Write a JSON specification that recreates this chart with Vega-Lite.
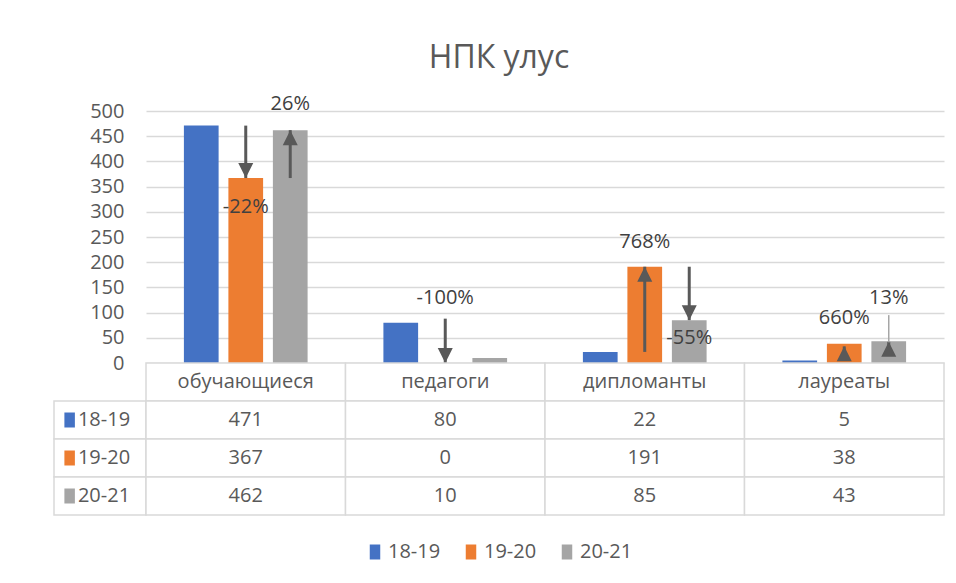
{
  "$schema": "https://vega.github.io/schema/vega-lite/v6.json",
  "padding": {"left": 53, "top": 42, "right": 13, "bottom": 20},
  "title": {"text": "НПК улус", "fontSize": 32, "fontWeight": "normal", "color": "#595959", "anchor": "middle", "offset": 19},
  "datasets": {
    "bars": [
      {"cat": "обучающиеся", "series": "18-19", "value": 471},
      {"cat": "обучающиеся", "series": "19-20", "value": 367},
      {"cat": "обучающиеся", "series": "20-21", "value": 462},
      {"cat": "педагоги", "series": "18-19", "value": 80},
      {"cat": "педагоги", "series": "19-20", "value": 0},
      {"cat": "педагоги", "series": "20-21", "value": 10},
      {"cat": "дипломанты", "series": "18-19", "value": 22},
      {"cat": "дипломанты", "series": "19-20", "value": 191},
      {"cat": "дипломанты", "series": "20-21", "value": 85},
      {"cat": "лауреаты", "series": "18-19", "value": 5},
      {"cat": "лауреаты", "series": "19-20", "value": 38},
      {"cat": "лауреаты", "series": "20-21", "value": 43}
    ],
    "arrows": [
      {"cat": "обучающиеся", "series": "19-20", "from": 471, "to": 367, "dir": "down", "label": "-22%", "label_at": 309},
      {"cat": "обучающиеся", "series": "20-21", "from": 367, "to": 462, "dir": "up", "label": "26%", "label_at": 513},
      {"cat": "педагоги", "series": "19-20", "from": 88, "to": 0, "dir": "down", "label": "-100%", "label_at": 128},
      {"cat": "дипломанты", "series": "19-20", "from": 22, "to": 191, "dir": "up", "label": "768%", "label_at": 241},
      {"cat": "дипломанты", "series": "20-21", "from": 191, "to": 85, "dir": "down", "label": "-55%", "label_at": 49},
      {"cat": "лауреаты", "series": "19-20", "from": 5, "to": 33, "dir": "up", "label": "660%", "label_at": 89},
      {"cat": "лауреаты", "series": "20-21", "from": 20, "to": 42, "dir": "up", "label": "13%", "label_at": 128}
    ],
    "leaders": [
      {"cat": "лауреаты", "series": "20-21", "from": 95, "to": 40}
    ],
    "rows": [
      {"series": "18-19"},
      {"series": "19-20"},
      {"series": "20-21"}
    ],
    "table": [
      {"cat": "обучающиеся", "row": "header", "text": "обучающиеся"},
      {"cat": "педагоги", "row": "header", "text": "педагоги"},
      {"cat": "дипломанты", "row": "header", "text": "дипломанты"},
      {"cat": "лауреаты", "row": "header", "text": "лауреаты"},
      {"cat": "обучающиеся", "row": "18-19", "text": "471"},
      {"cat": "педагоги", "row": "18-19", "text": "80"},
      {"cat": "дипломанты", "row": "18-19", "text": "22"},
      {"cat": "лауреаты", "row": "18-19", "text": "5"},
      {"cat": "обучающиеся", "row": "19-20", "text": "367"},
      {"cat": "педагоги", "row": "19-20", "text": "0"},
      {"cat": "дипломанты", "row": "19-20", "text": "191"},
      {"cat": "лауреаты", "row": "19-20", "text": "38"},
      {"cat": "обучающиеся", "row": "20-21", "text": "462"},
      {"cat": "педагоги", "row": "20-21", "text": "10"},
      {"cat": "дипломанты", "row": "20-21", "text": "85"},
      {"cat": "лауреаты", "row": "20-21", "text": "43"}
    ]
  },
  "columns": 2,
  "spacing": 0,
  "bounds": "flush",
  "concat": [
    {
      "width": 92, "height": 252,
      "data": {"values": [{"a": 1}]},
      "mark": {"type": "text", "text": ""},
      "encoding": {}
    },
    {
      "width": 798, "height": 252,
      "layer": [
        {
          "data": {"name": "bars"},
          "mark": {"type": "bar"},
          "encoding": {
            "x": {"field": "cat", "type": "nominal", "sort": ["обучающиеся", "педагоги", "дипломанты", "лауреаты"], "scale": {"domain": ["обучающиеся", "педагоги", "дипломанты", "лауреаты"], "paddingInner": 0.38, "paddingOuter": 0.19}, "axis": null},
            "xOffset": {"field": "series", "type": "nominal", "scale": {"domain": ["18-19", "19-20", "20-21"], "paddingInner": 0.22, "paddingOuter": 0}},
            "y": {"field": "value", "type": "quantitative", "title": null, "scale": {"domain": [0, 500], "nice": false},
              "axis": {"values": [0, 50, 100, 150, 200, 250, 300, 350, 400, 450, 500], "labelOverlap": false, "grid": true, "gridColor": "#D9D9D9", "gridWidth": 1.5, "domain": false, "ticks": false, "tickSize": 0, "labelPadding": 22, "labelFontSize": 20, "labelColor": "#595959", "title": null}},
            "color": {"field": "series", "type": "nominal", "scale": {"domain": ["18-19", "19-20", "20-21"], "range": ["#4472C4", "#ED7D31", "#A5A5A5"]},
              "legend": {"orient": "bottom", "direction": "horizontal", "title": null, "symbolType": "M-0.7,-1H0.7V1H-0.7Z", "symbolSize": 225, "labelFontSize": 20, "labelColor": "#595959", "columnPadding": 20, "labelOffset": 3, "offset": 26, "symbolStrokeWidth": 0}}
          }
        },
        {
          "data": {"name": "arrows"},
          "mark": {"type": "rule", "color": "#595959", "strokeWidth": 3},
          "encoding": {
            "x": {"field": "cat", "type": "nominal"},
            "xOffset": {"field": "series", "type": "nominal"},
            "y": {"field": "from", "type": "quantitative", "title": null,
              "axis": {"values": [0, 50, 100, 150, 200, 250, 300, 350, 400, 450, 500], "labelOverlap": false, "grid": true, "gridColor": "#D9D9D9", "gridWidth": 1.5, "domain": false, "ticks": false, "tickSize": 0, "labelPadding": 22, "labelFontSize": 20, "labelColor": "#595959", "title": null}},
            "y2": {"field": "to"}
          }
        },
        {
          "data": {"name": "leaders"},
          "mark": {"type": "rule", "color": "#A6A6A6", "strokeWidth": 1.5},
          "encoding": {
            "x": {"field": "cat", "type": "nominal"},
            "xOffset": {"field": "series", "type": "nominal"},
            "y": {"field": "from", "type": "quantitative", "title": null,
              "axis": {"values": [0, 50, 100, 150, 200, 250, 300, 350, 400, 450, 500], "labelOverlap": false, "grid": true, "gridColor": "#D9D9D9", "gridWidth": 1.5, "domain": false, "ticks": false, "tickSize": 0, "labelPadding": 22, "labelFontSize": 20, "labelColor": "#595959", "title": null}},
            "y2": {"field": "to"}
          }
        },
        {
          "data": {"name": "arrows"},
          "mark": {"type": "point", "filled": true, "color": "#595959", "size": 225, "opacity": 1},
          "encoding": {
            "x": {"field": "cat", "type": "nominal"},
            "xOffset": {"field": "series", "type": "nominal"},
            "y": {"field": "to", "type": "quantitative", "title": null,
              "axis": {"values": [0, 50, 100, 150, 200, 250, 300, 350, 400, 450, 500], "labelOverlap": false, "grid": true, "gridColor": "#D9D9D9", "gridWidth": 1.5, "domain": false, "ticks": false, "tickSize": 0, "labelPadding": 22, "labelFontSize": 20, "labelColor": "#595959", "title": null}},
            "shape": {"field": "dir", "type": "nominal", "scale": {"domain": ["up", "down"], "range": ["M0,0L-1,2L1,2Z", "M0,0L-1,-2L1,-2Z"]}, "legend": null}
          }
        },
        {
          "data": {"name": "arrows"},
          "mark": {"type": "text", "fontSize": 20, "color": "#404040"},
          "encoding": {
            "x": {"field": "cat", "type": "nominal"},
            "xOffset": {"field": "series", "type": "nominal"},
            "y": {"field": "label_at", "type": "quantitative", "title": null,
              "axis": {"values": [0, 50, 100, 150, 200, 250, 300, 350, 400, 450, 500], "labelOverlap": false, "grid": true, "gridColor": "#D9D9D9", "gridWidth": 1.5, "domain": false, "ticks": false, "tickSize": 0, "labelPadding": 22, "labelFontSize": 20, "labelColor": "#595959", "title": null}},
            "text": {"field": "label"}
          }
        }
      ]
    },
    {
      "width": 92, "height": 152,
      "data": {"name": "rows"},
      "layer": [
        {
          "mark": {"type": "rect", "fill": "white", "stroke": "#D9D9D9", "strokeWidth": 1.5},
          "encoding": {
            "x": {"datum": 0, "type": "quantitative", "scale": {"domain": [0, 1]}, "axis": null},
            "x2": {"datum": 1},
            "y": {"field": "series", "type": "nominal", "scale": {"domain": ["header", "18-19", "19-20", "20-21"], "paddingInner": 0, "paddingOuter": 0}, "axis": null}
          }
        },
        {
          "mark": {"type": "point", "filled": true, "shape": "M-0.7,-1H0.7V1H-0.7Z", "size": 225, "opacity": 1},
          "encoding": {
            "x": {"datum": 0.17, "type": "quantitative"},
            "y": {"field": "series", "type": "nominal"},
            "color": {"field": "series", "type": "nominal"}
          }
        },
        {
          "mark": {"type": "text", "align": "left", "fontSize": 20, "color": "#595959"},
          "encoding": {
            "x": {"datum": 0.26, "type": "quantitative"},
            "y": {"field": "series", "type": "nominal"},
            "text": {"field": "series"}
          }
        }
      ]
    },
    {
      "width": 798, "height": 152,
      "data": {"name": "table"},
      "layer": [
        {
          "mark": {"type": "rect", "fill": "white", "stroke": "#D9D9D9", "strokeWidth": 1.5},
          "encoding": {
            "x": {"field": "cat", "type": "nominal", "scale": {"domain": ["обучающиеся", "педагоги", "дипломанты", "лауреаты"], "paddingInner": 0, "paddingOuter": 0}, "axis": null},
            "y": {"field": "row", "type": "nominal", "scale": {"domain": ["header", "18-19", "19-20", "20-21"], "paddingInner": 0, "paddingOuter": 0}, "axis": null}
          }
        },
        {
          "mark": {"type": "text", "fontSize": 20, "color": "#595959"},
          "encoding": {
            "x": {"field": "cat", "type": "nominal"},
            "y": {"field": "row", "type": "nominal"},
            "text": {"field": "text"}
          }
        }
      ]
    }
  ],
  "resolve": {"scale": {"x": "independent", "y": "independent", "color": "shared"}},
  "config": {
    "font": "Open Sans",
    "view": {"stroke": null},
    "legend": {"layout": {"bottom": {"anchor": "middle"}}}
  }
}
